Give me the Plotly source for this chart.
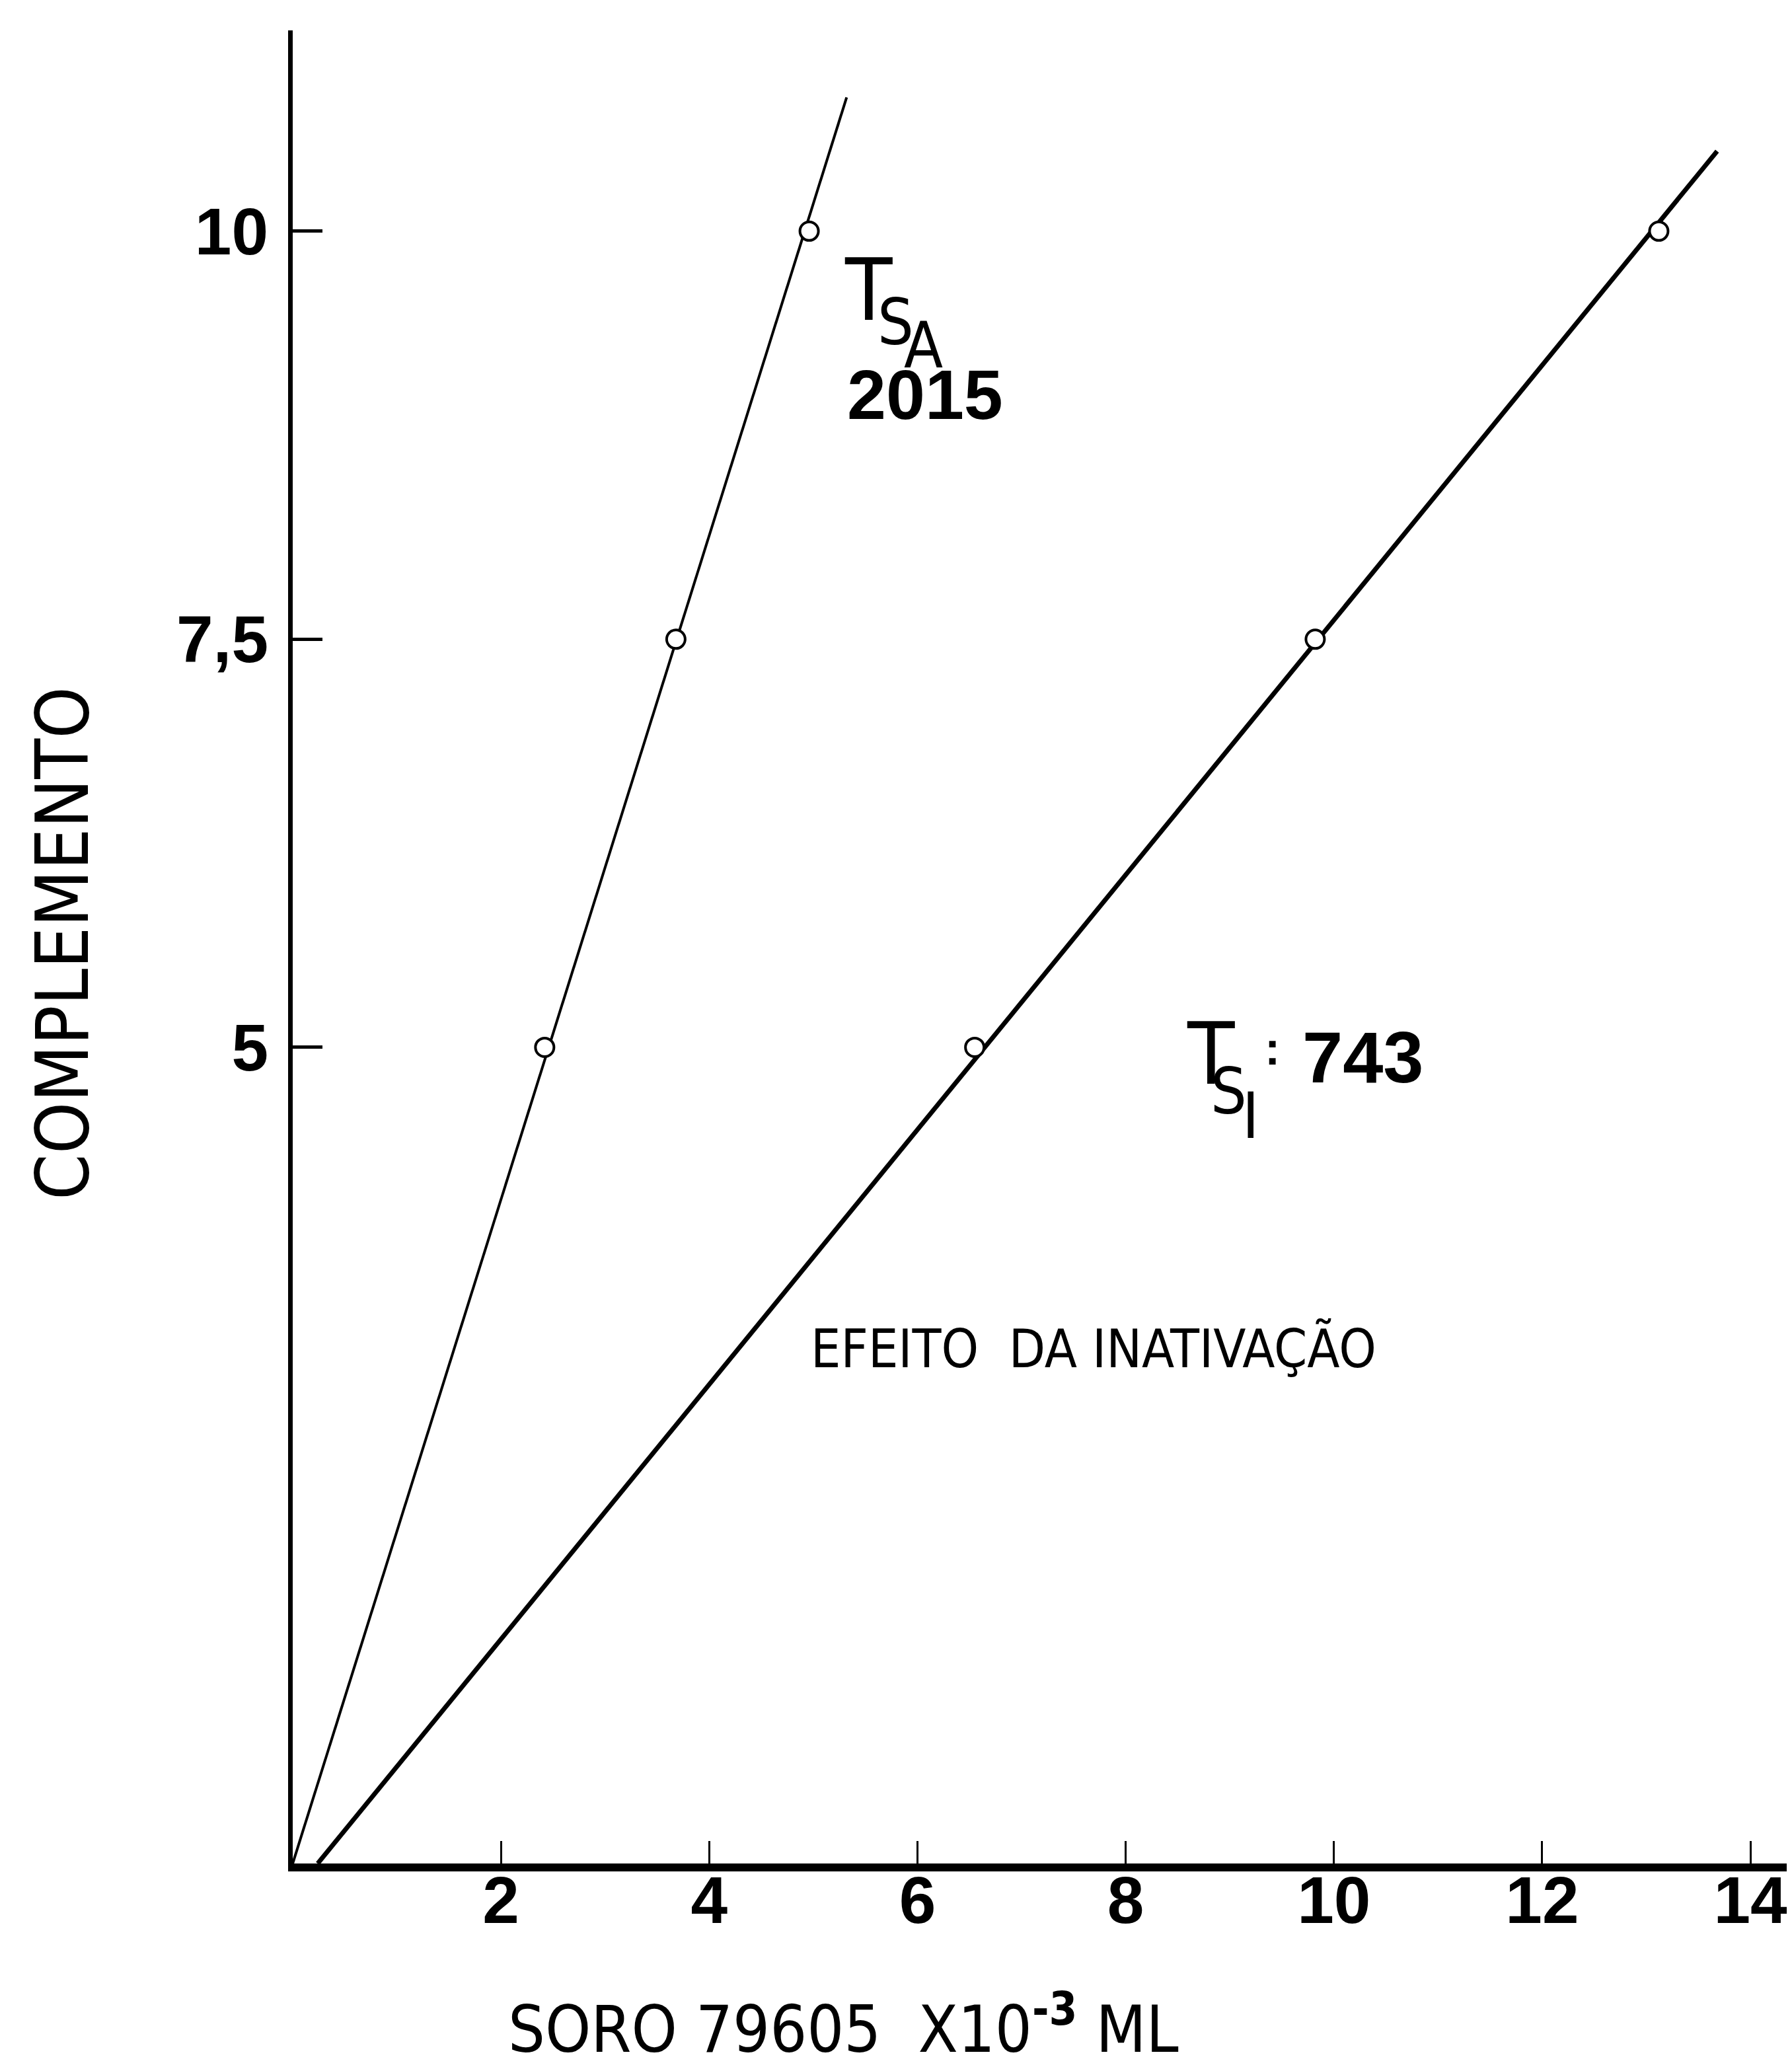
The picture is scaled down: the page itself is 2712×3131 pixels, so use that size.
import plotly.graph_objects as go

# ---- data ----
x_ticks = [2, 4, 6, 8, 10, 12, 14]
x_ticktext = ["2", "4", "6", "8", "10", "12", "14"]
y_ticks = [5, 7.5, 10]
y_ticktext = ["5", "7,5", "10"]

# T_SA (active serum) measured points
sa_x = [2.42, 3.68, 4.96]
sa_y = [5, 7.5, 10]
# fitted line for T_SA
sa_line_x = [0.0, 5.32]
sa_line_y = [0.0, 10.82]

# T_SI (inactivated serum) measured points
si_x = [6.55, 9.82, 13.12]
si_y = [5, 7.5, 10]
# fitted line for T_SI
si_line_x = [0.24, 13.68]
si_line_y = [0.0, 10.49]

NARROW = "Liberation Sans Narrow, DejaVu Sans Condensed, Arial Narrow, sans-serif"
SANS = "Liberation Sans, Arial, Helvetica, sans-serif"

fig = go.Figure()

fig.add_trace(go.Scatter(x=sa_line_x, y=sa_line_y, mode="lines",
                         line=dict(color="black", width=4), showlegend=False, hoverinfo="skip"))
fig.add_trace(go.Scatter(x=si_line_x, y=si_line_y, mode="lines",
                         line=dict(color="black", width=7), showlegend=False, hoverinfo="skip"))
fig.add_trace(go.Scatter(x=sa_x, y=sa_y, mode="markers",
                         marker=dict(symbol="circle", size=28, color="white",
                                     line=dict(color="black", width=4)),
                         showlegend=False))
fig.add_trace(go.Scatter(x=si_x, y=si_y, mode="markers",
                         marker=dict(symbol="circle", size=28, color="white",
                                     line=dict(color="black", width=4)),
                         showlegend=False))

W, H = 2712, 3131
L, R, T, B = 435, 0, 38, 319

fig.update_layout(
    width=W, height=H, autosize=False,
    margin=dict(l=L, r=R, t=T, b=B, pad=0),
    paper_bgcolor="white", plot_bgcolor="white",
    showlegend=False,
    xaxis=dict(range=[0, 14.45], showgrid=False, zeroline=False,
               showline=True, linecolor="black", linewidth=12,
               ticks="inside", ticklen=34, tickwidth=3, tickcolor="black",
               tickvals=x_ticks, ticktext=x_ticktext,
               tickfont=dict(family=SANS, size=100, color="black", weight="bold"),
               ticklabelstandoff=-42),
    yaxis=dict(range=[0, 11.23], showgrid=False, zeroline=False,
               showline=True, linecolor="black", linewidth=7,
               ticks="inside", ticklen=45, tickwidth=5, tickcolor="black",
               tickvals=y_ticks, ticktext=y_ticktext,
               tickfont=dict(family=SANS, size=100, color="black", weight="bold"),
               ticklabelstandoff=10),
)

ann = []
# axis titles
ann.append(dict(text="COMPLEMENTO", xref="paper", yref="paper", x=-0.153, y=0.502,
                xanchor="center", yanchor="middle", textangle=-90, showarrow=False,
                font=dict(family=NARROW, size=111, color="black")))
ann.append(dict(text="SORO 79605  X10<sup><b>-3</b></sup> ML", xref="paper", yref="paper",
                x=0.366, y=-0.088, xanchor="center", yanchor="middle", showarrow=False,
                font=dict(family=NARROW, size=98, color="black")))
# T_SA label
ann.append(dict(text="T", xref="x", yref="y", x=5.53, y=9.64, showarrow=False,
                font=dict(family=NARROW, size=130, color="black")))
ann.append(dict(text="S", xref="x", yref="y", x=5.79, y=9.44, showarrow=False,
                font=dict(family=NARROW, size=96, color="black")))
ann.append(dict(text="A", xref="x", yref="y", x=6.06, y=9.3, showarrow=False,
                font=dict(family=NARROW, size=96, color="black")))
ann.append(dict(text="2015", xref="x", yref="y", x=6.07, y=9.0, showarrow=False,
                font=dict(family=SANS, size=106, color="black", weight="bold")))
# T_SI label
ann.append(dict(text="T", xref="x", yref="y", x=8.82, y=4.96, showarrow=False,
                font=dict(family=NARROW, size=130, color="black")))
ann.append(dict(text="S", xref="x", yref="y", x=8.99, y=4.73, showarrow=False,
                font=dict(family=NARROW, size=96, color="black")))
ann.append(dict(text="I", xref="x", yref="y", x=9.2, y=4.58, showarrow=False,
                font=dict(family=NARROW, size=96, color="black")))
ann.append(dict(text=":", xref="x", yref="y", x=9.41, y=4.99, showarrow=False,
                font=dict(family=SANS, size=70, color="black", weight="bold")))
ann.append(dict(text="743", xref="x", yref="y", x=10.28, y=4.94, showarrow=False,
                font=dict(family=SANS, size=110, color="black", weight="bold")))
# effect label
ann.append(dict(text="EFEITO  DA INATIVAÇÃO", xref="x", yref="y", x=7.69, y=3.15,
                showarrow=False, font=dict(family=NARROW, size=80, color="black")))

fig.update_layout(annotations=ann)
fig.write_html("out.html")
